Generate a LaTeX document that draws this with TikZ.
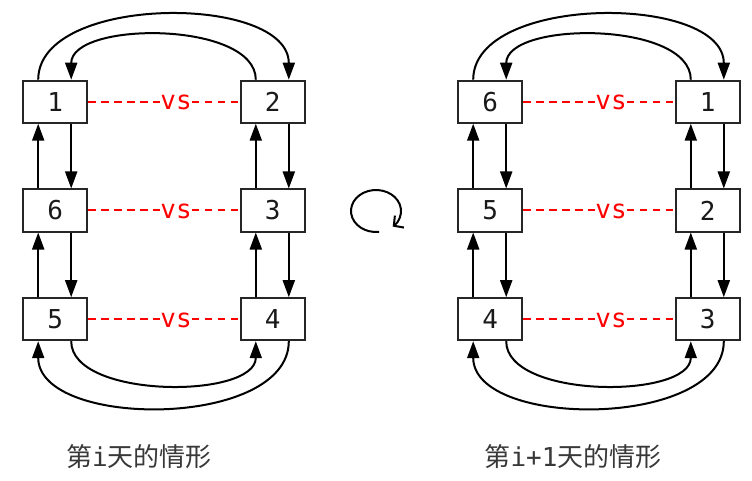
\documentclass[tikz,border=0pt]{standalone}
\usepackage{fontspec}
\newfontfamily\cjk{Noto Sans CJK SC}
\newfontfamily\mono{DejaVu Sans Mono}
\usetikzlibrary{arrows.meta,calc}
\begin{document}
\begin{tikzpicture}[x=1pt,y=-1pt,
  box/.style={draw=black!85, line width=2pt, minimum width=64pt, minimum height=42pt, inner sep=0pt, font=\mono\fontsize{26}{26}\selectfont, text=black!90},
  arr/.style={line width=2pt, -{Triangle[length=17pt,width=12pt]}},
  vsline/.style={red, line width=2pt, dash pattern=on 7.5pt off 5.5pt},
  vs/.style={red, inner sep=0pt, font=\mono\fontsize{26}{26}\selectfont},
  lab/.style={inner sep=0pt, font=\fontsize{26}{30}\selectfont, text=black!78},
  rot/.style={line width=2pt, -{Straight Barb[length=7pt,width=15pt]}}]
\useasboundingbox (0,0) rectangle (752,481);

% ---------- left diagram ----------
\node[box] (L1) at (55.2,101.7) {1};
\node[box] (L2) at (272.8,101.7) {2};
\node[box] (L6) at (55.2,210.5) {6};
\node[box] (L3) at (272.8,210.5) {3};
\node[box] (L5) at (55.2,319.2) {5};
\node[box] (L4) at (272.8,319.2) {4};

\node[vs] (LV1) at (176,102.6) {vs};
\node[vs] (LV2) at (176,211.4) {vs};
\node[vs] (LV3) at (176,320.1) {vs};
\draw[vsline] (L1.east) -- (L1.east -| LV1.west);
\draw[vsline] (L2.west -| LV1.east) -- (L2.west);
\draw[vsline] (L6.east) -- (L6.east -| LV2.west);
\draw[vsline] (L3.west -| LV2.east) -- (L3.west);
\draw[vsline] (L5.east) -- (L5.east -| LV3.west);
\draw[vsline] (L4.west -| LV3.east) -- (L4.west);

\draw[arr] ([xshift=-17pt]L6.north) -- ([xshift=-17pt]L1.south);
\draw[arr] ([xshift=16pt]L1.south) -- ([xshift=16pt]L6.north);
\draw[arr] ([xshift=-17pt]L5.north) -- ([xshift=-17pt]L6.south);
\draw[arr] ([xshift=16pt]L6.south) -- ([xshift=16pt]L5.north);
\draw[arr] ([xshift=-17pt]L3.north) -- ([xshift=-17pt]L2.south);
\draw[arr] ([xshift=16pt]L2.south) -- ([xshift=16pt]L3.north);
\draw[arr] ([xshift=-17pt]L4.north) -- ([xshift=-17pt]L3.south);
\draw[arr] ([xshift=16pt]L3.south) -- ([xshift=16pt]L4.north);

\draw[arr] ([xshift=-17pt]L1.north) .. controls +(0,-86) and +(0,-86) .. ([xshift=16pt]L2.north);
\draw[arr] ([xshift=-17pt]L2.north) .. controls +(0,-59) and +(0,-59) .. ([xshift=16pt]L1.north);
\draw[arr] ([xshift=16pt]L5.south) .. controls +(0,58) and +(0,58) .. ([xshift=-17pt]L4.south);
\draw[arr] ([xshift=16pt]L4.south) .. controls +(0,88) and +(0,88) .. ([xshift=-17pt]L5.south);

% ---------- right diagram ----------
\node[box] (R6) at (490.2,101.7) {6};
\node[box] (R1) at (707.8,101.7) {1};
\node[box] (R5) at (490.2,210.5) {5};
\node[box] (R2) at (707.8,210.5) {2};
\node[box] (R4) at (490.2,319.2) {4};
\node[box] (R3) at (707.8,319.2) {3};

\node[vs] (RV1) at (611,102.6) {vs};
\node[vs] (RV2) at (611,211.4) {vs};
\node[vs] (RV3) at (611,320.1) {vs};
\draw[vsline] (R6.east) -- (R6.east -| RV1.west);
\draw[vsline] (R1.west -| RV1.east) -- (R1.west);
\draw[vsline] (R5.east) -- (R5.east -| RV2.west);
\draw[vsline] (R2.west -| RV2.east) -- (R2.west);
\draw[vsline] (R4.east) -- (R4.east -| RV3.west);
\draw[vsline] (R3.west -| RV3.east) -- (R3.west);

\draw[arr] ([xshift=-17pt]R5.north) -- ([xshift=-17pt]R6.south);
\draw[arr] ([xshift=16pt]R6.south) -- ([xshift=16pt]R5.north);
\draw[arr] ([xshift=-17pt]R4.north) -- ([xshift=-17pt]R5.south);
\draw[arr] ([xshift=16pt]R5.south) -- ([xshift=16pt]R4.north);
\draw[arr] ([xshift=-17pt]R2.north) -- ([xshift=-17pt]R1.south);
\draw[arr] ([xshift=16pt]R1.south) -- ([xshift=16pt]R2.north);
\draw[arr] ([xshift=-17pt]R3.north) -- ([xshift=-17pt]R2.south);
\draw[arr] ([xshift=16pt]R2.south) -- ([xshift=16pt]R3.north);

\draw[arr] ([xshift=-17pt]R6.north) .. controls +(0,-86) and +(0,-86) .. ([xshift=16pt]R1.north);
\draw[arr] ([xshift=-17pt]R1.north) .. controls +(0,-59) and +(0,-59) .. ([xshift=16pt]R6.north);
\draw[arr] ([xshift=16pt]R4.south) .. controls +(0,58) and +(0,58) .. ([xshift=-17pt]R3.south);
\draw[arr] ([xshift=16pt]R3.south) .. controls +(0,88) and +(0,88) .. ([xshift=-17pt]R4.south);

% ---------- rotation symbol ----------
\coordinate (rs) at (379.05,231.84);
\draw[rot] (rs) arc[start angle=83, end angle=408, x radius=25, y radius=21];

% ---------- captions ----------
\node[lab] (cap1) at (139,457) {\cjk 第\mono i\cjk 天的情形};
\node[lab] (cap2) at (573,457) {\cjk 第\mono i+1\cjk 天的情形};
\end{tikzpicture}
\end{document}
